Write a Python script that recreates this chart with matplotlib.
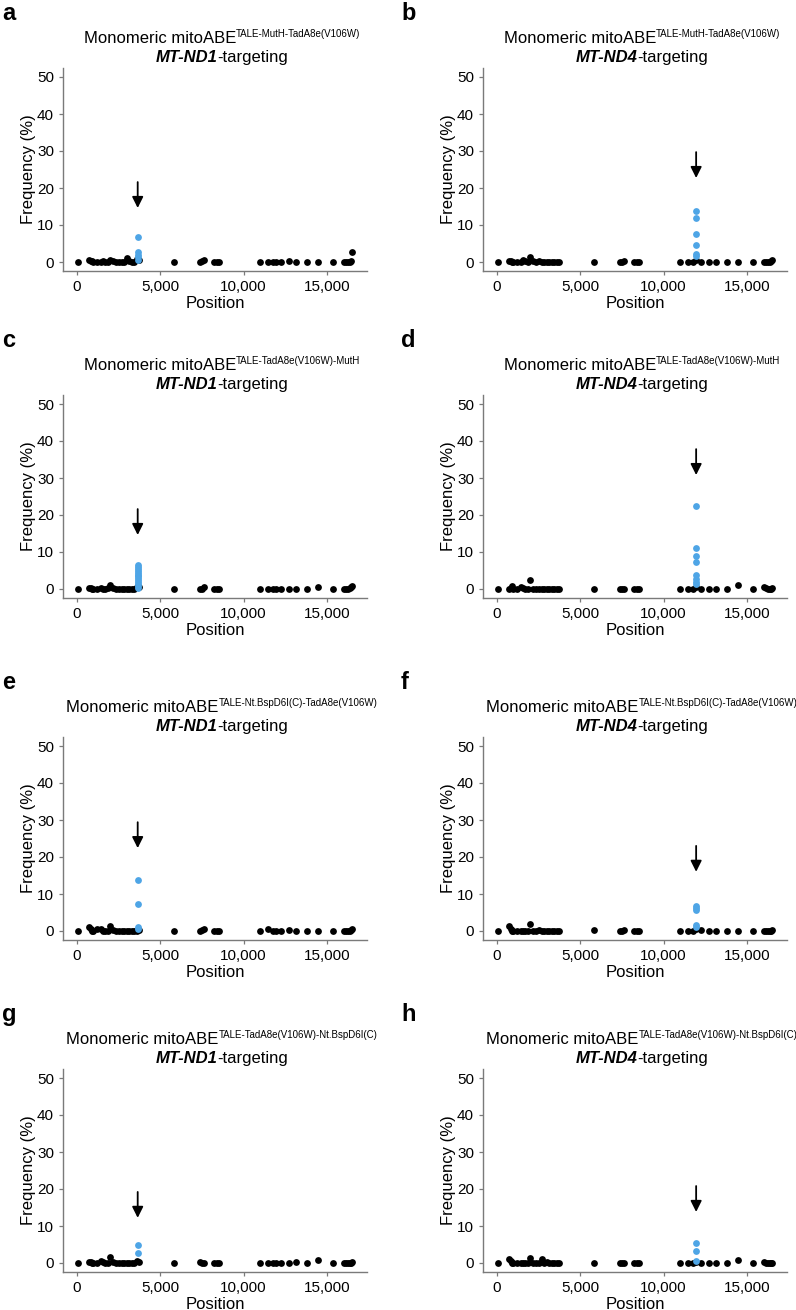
import matplotlib
matplotlib.use("Agg")
import matplotlib.pyplot as plt

plt.rcParams['font.family'] = ['Liberation Sans', 'DejaVu Sans']

# ---------------- data ----------------
panel_letters = ['a', 'b', 'c', 'd', 'e', 'f', 'g', 'h']
constructs = ['TALE-MutH-TadA8e(V106W)', 'TALE-MutH-TadA8e(V106W)',
              'TALE-TadA8e(V106W)-MutH', 'TALE-TadA8e(V106W)-MutH',
              'TALE-Nt.BspD6I(C)-TadA8e(V106W)', 'TALE-Nt.BspD6I(C)-TadA8e(V106W)',
              'TALE-TadA8e(V106W)-Nt.BspD6I(C)', 'TALE-TadA8e(V106W)-Nt.BspD6I(C)']
genes = ['MT-ND1', 'MT-ND4'] * 4
target_pos = {'MT-ND1': 3650, 'MT-ND4': 11950}

bg_pos = [73, 750, 830, 900, 1000, 1200, 1440, 1600, 1700, 1850,
          2000, 2150, 2350, 2500, 2700, 2850, 3000, 3150, 3300, 3450,
          3600, 3700, 5800, 7400, 7500, 7620, 8250, 8400, 8500,
          10960, 11470, 11750, 11950, 12270, 12700, 13150, 13780, 14440, 15340,
          16040, 16150, 16250, 16350, 16450, 16520]

bg_a = [0, 0.5, 0.4, 0.2, 0, 0, 0, 0.3, 0, 0, 0.6, 0.3, 0, 0, 0, 0, 1.0, 0.3, 0, 0,
        0.8, 0.5, 0, 0, 0.2, 0.6, 0, 0, 0, 0, 0, 0, 0, 0, 0.2, 0, 0, 0, 0,
        0, 0, 0, 0, 0.3, 2.7]
bg_b = [0, 0.3, 0.2, 0, 0, 0, 0, 0.5, 0.3, 0, 1.3, 0.2, 0, 0.2, 0, 0, 0, 0, 0, 0,
        0, 0, 0, 0, 0, 0.2, 0, 0, 0, 0, 0, 0, 0.5, 0, 0, 0, 0, 0, 0,
        0, 0, 0, 0, 0.3, 0.6]
bg_c = [0, 0.3, 0.2, 0, 0, 0, 0.2, 0, 0, 0.4, 1.0, 0.3, 0, 0, 0, 0, 0, 0, 0, 0,
        0.6, 0.5, 0, 0, 0, 0.5, 0, 0, 0, 0, 0, 0, 0, 0, 0, 0, 0, 0.6, 0,
        0, 0, 0, 0.3, 0.5, 0.8]
bg_d = [0, 0, 0.3, 0.9, 0, 0, 0.5, 0.3, 0, 0, 2.3, 0, 0, 0, 0, 0, 0, 0, 0, 0,
        0, 0, 0, 0, 0, 0, 0, 0, 0, 0, 0, 0, 0.5, 0, 0, 0, 0, 1.0, 0,
        0.6, 0.3, 0, 0, 0, 0.2]
bg_e = [0, 1.0, 0.6, 0, 0, 0.5, 0.5, 0, 0, 0, 1.4, 0.3, 0, 0, 0, 0, 0, 0, 0, 0,
        0, 0.4, 0, 0, 0.3, 0.6, 0, 0, 0, 0, 0.6, 0, 0, 0, 0.3, 0, 0, 0, 0,
        0, 0, 0, 0, 0.4, 0.6]
bg_f = [0, 1.4, 0.5, 0, 0, 0, 0, 0, 0, 0, 1.9, 0, 0, 0.2, 0, 0, 0, 0, 0, 0,
        0, 0, 0.4, 0, 0, 0.4, 0, 0, 0, 0, 0, 0, 0.5, 0.3, 0, 0, 0, 0, 0,
        0, 0, 0, 0, 0, 0.3]
bg_g = [0, 0.3, 0.2, 0, 0, 0, 0.5, 0.3, 0, 0, 1.6, 0.3, 0, 0, 0, 0, 0, 0, 0, 0,
        0.5, 0.3, 0, 0.3, 0, 0, 0, 0, 0, 0, 0, 0, 0, 0, 0, 0.3, 0, 0.7, 0,
        0, 0, 0, 0, 0, 0.2]
bg_h = [0, 1.2, 0.5, 0, 0, 0, 0, 0, 0, 0, 1.3, 0, 0, 0, 1.0, 0, 0.3, 0, 0, 0,
        0, 0, 0, 0, 0, 0, 0, 0, 0, 0, 0, 0, 0.4, 0, 0, 0, 0, 0.9, 0,
        0.4, 0, 0, 0, 0, 0]
bg_freqs = [bg_a, bg_b, bg_c, bg_d, bg_e, bg_f, bg_g, bg_h]

on_a = [6.8, 2.7, 2.0, 1.4, 0.6]
on_b = [13.9, 12.0, 7.7, 4.5, 2.1, 1.6]
on_c = [6.4, 5.9, 5.4, 4.9, 4.4, 3.9, 3.4, 2.9, 2.4, 1.9, 1.4, 0.9, 0.4]
on_d = [22.3, 11.2, 8.8, 7.2, 3.9, 2.7, 2.0, 1.4]
on_e = [13.7, 7.2, 1.0, 0.5]
on_f = [6.8, 6.3, 5.8, 1.5, 1.1]
on_g = [5.0, 2.8]
on_h = [5.4, 3.3, 0.5]
on_freqs = [on_a, on_b, on_c, on_d, on_e, on_f, on_g, on_h]

arrow_tips = [14.6, 22.7, 14.6, 30.8, 22.4, 16.0, 12.2, 13.8]
arrow_len = 7.0

yticks = [0, 10, 20, 30, 40, 50]
xticks = [0, 5000, 10000, 15000]
xticklabels = ['0', '5,000', '10,000', '15,000']

# ---------------- layout ----------------
W, H, DPI = 796, 1310, 100
fig = plt.figure(figsize=(W / DPI, H / DPI), dpi=DPI)
renderer = fig.canvas.get_renderer()

col_left = [63, 483]
col_width = 304
row_zero = [262, 589, 931, 1263]
px_per_unit = 3.7
ylim = (-2.5, 52.5)
xlim = (-828, 17397)

BLUE = '#4EA5E6'
GRAY = '#7a7a7a'


def place_parts(parts, cx, baseline):
    objs = []
    widths = []
    for s, kw in parts:
        kw = dict(kw)
        dy = kw.pop('dy', 0)
        t = fig.text(0, 0, s, va='baseline', ha='left', **kw)
        widths.append(t.get_window_extent(renderer).width)
        objs.append((t, dy))
    total = sum(widths)
    x = cx - total / 2
    for (t, dy), w in zip(objs, widths):
        t.set_position((x / W, 1 - (baseline - dy) / H))
        x += w


for i in range(8):
    r, c = divmod(i, 2)
    z = row_zero[r]
    top = z - (ylim[1]) * px_per_unit
    bottom = z - (ylim[0]) * px_per_unit
    left = col_left[c]
    ax = fig.add_axes([left / W, 1 - bottom / H, col_width / W, (bottom - top) / H])

    gene = genes[i]
    ax.scatter(bg_pos, bg_freqs[i], s=24, color='black', linewidths=0, zorder=3)
    ax.scatter([target_pos[gene]] * len(on_freqs[i]), on_freqs[i], s=24,
               color=BLUE, linewidths=0, zorder=4)
    ax.annotate('', xy=(target_pos[gene], arrow_tips[i]),
                xytext=(target_pos[gene], arrow_tips[i] + arrow_len),
                arrowprops=dict(arrowstyle='-|>,head_length=0.6,head_width=0.3',
                                mutation_scale=11, lw=1.3, color='black',
                                shrinkA=0, shrinkB=0))

    ax.set_xlim(*xlim)
    ax.set_ylim(*ylim)
    ax.set_xticks(xticks)
    ax.set_xticklabels(xticklabels)
    ax.set_yticks(yticks)
    for sp in ['top', 'right']:
        ax.spines[sp].set_visible(False)
    for sp in ['left', 'bottom']:
        ax.spines[sp].set_color(GRAY)
        ax.spines[sp].set_linewidth(1.0)
    ax.tick_params(axis='both', colors=GRAY, labelcolor='black', labelsize=11,
                   length=3, width=0.9, pad=3.5)
    ax.set_xlabel('Position', fontsize=12, labelpad=1)
    ax.set_ylabel('Frequency (%)', fontsize=12, labelpad=1)

    cx = left + 159
    y50 = z - 50 * px_per_unit
    place_parts([('Monomeric mitoABE', dict(fontsize=12)),
                 (constructs[i], dict(fontsize=7, dy=6))], cx, y50 - 34)
    place_parts([(gene, dict(fontsize=12, weight='bold', style='italic')),
                 ('-targeting', dict(fontsize=12))], cx, y50 - 15)
    fig.text((2 if c == 0 else 401) / W, 1 - (y50 - 57) / H, panel_letters[i],
             fontsize=17, weight='bold', va='baseline', ha='left')

fig.savefig('out.png', dpi=DPI)
